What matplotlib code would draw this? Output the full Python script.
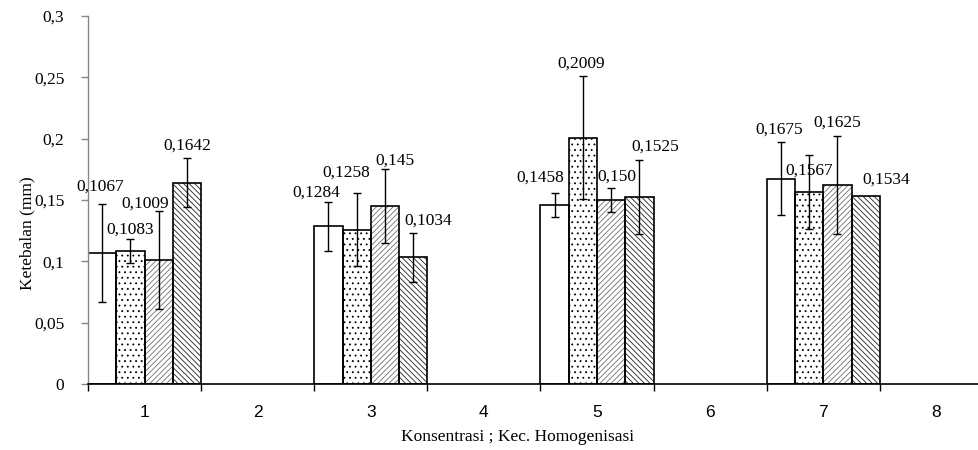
import matplotlib
matplotlib.use("Agg")
import matplotlib.pyplot as plt
import numpy as np
from matplotlib import font_manager

# data
categories = ['1', '2', '3', '4', '5', '6', '7', '8']
groups = [1, 3, 5, 7]

s1 = [0.1067, 0.1284, 0.1458, 0.1675]
s2 = [0.1083, 0.1258, 0.2009, 0.1567]
s3 = [0.1009, 0.145, 0.150, 0.1625]
s4 = [0.1642, 0.1034, 0.1525, 0.1534]

err1 = [0.04, 0.02, 0.01, 0.03]
err2 = [0.01, 0.03, 0.05, 0.03]
err3 = [0.04, 0.03, 0.01, 0.04]
err4 = [0.02, 0.02, 0.03, 0.0]

lab1 = ['0,1067', '0,1284', '0,1458', '0,1675']
lab2 = ['0,1083', '0,1258', '0,2009', '0,1567']
lab3 = ['0,1009', '0,145', '0,150', '0,1625']
lab4 = ['0,1642', '0,1034', '0,1525', '0,1534']

yticks = [0, 0.05, 0.1, 0.15, 0.2, 0.25, 0.3]
ytick_labels = ['0', '0,05', '0,1', '0,15', '0,2', '0,25', '0,3']

# label nudges in pixels (dx, dy from top of error bar)
nudge1 = [(-1.5, 17), (-12, 9), (-14.5, 15), (-2, 12)]
nudge2 = [(0, 9), (-10, 20), (-2, 13), (0, -16)]
nudge3 = [(-13.5, 8), (10, 9), (6, 11), (0, 13)]
nudge4 = [(0, 12), (15, 12), (16, 13), (21, 16)]

serif = 'Liberation Serif'
names = {f.name for f in font_manager.fontManager.ttflist}
xfont = 'Liberation Sans Narrow' if 'Liberation Sans Narrow' in names else 'Liberation Sans'

plt.rcParams['hatch.linewidth'] = 0.6
plt.rcParams['font.family'] = serif

fig = plt.figure(figsize=(9.79, 4.5), dpi=100)
ax = fig.add_axes([88 / 979, 66 / 450, 905 / 979, 368 / 450])

width = 0.25
offsets = [-1.5 * width, -0.5 * width, 0.5 * width, 1.5 * width]
hatches = ['', '...', '//////', '\\\\\\\\\\\\']
hatch_colors = ['black', 'black', '#707070', '#202020']
series = [s1, s2, s3, s4]
errs = [err1, err2, err3, err4]
labels = [lab1, lab2, lab3, lab4]
nudges = [nudge1, nudge2, nudge3, nudge4]

gx = np.array(groups, dtype=float)
for vals, err, hatch, hc, off, labs, nud in zip(series, errs, hatches, hatch_colors,
                                                 offsets, labels, nudges):
    x = gx + off
    # hatch layer, then outline on top
    ax.bar(x, vals, width, color='white', edgecolor=hc, linewidth=0,
           hatch=hatch, zorder=2)
    ax.bar(x, vals, width, fill=False, edgecolor='black', linewidth=1.2, zorder=2.5)
    e = np.array(err)
    m = e > 0
    ax.errorbar(x[m], np.array(vals)[m], yerr=e[m], fmt='none', ecolor='black',
                elinewidth=1, capsize=3.2, capthick=1, zorder=3)
    for xi, v, ei, t, (dx, dy) in zip(x, vals, err, labs, nud):
        ax.annotate(t, (xi, v + ei), xytext=(dx, dy), textcoords='offset pixels',
                    ha='center', va='center', fontsize=12.5, family=serif, zorder=4)

ax.set_xlim(0.5, 8.5)
ax.set_ylim(0, 0.3)

ax.set_xticks(np.arange(0.5, 9.0, 1.0))
ax.set_xticklabels([])
ax.set_xticks(np.arange(1, 9), minor=True)
ax.set_xticklabels(categories, minor=True, family=xfont, fontsize=12.5)
ax.tick_params(axis='x', which='major', direction='out', length=5, width=1, color='black')
ax.tick_params(axis='x', which='minor', length=0, pad=15)

ax.set_yticks(yticks)
ax.set_yticklabels(ytick_labels, family=serif, fontsize=12.5)
ax.tick_params(axis='y', direction='out', length=5, width=1, color='#868686', pad=12)

ax.spines['top'].set_visible(False)
ax.spines['right'].set_visible(False)
ax.spines['left'].set_color('#868686')
ax.spines['left'].set_linewidth(1)
ax.spines['bottom'].set_color('black')
ax.spines['bottom'].set_linewidth(1.2)

fig.text(27 / 979, 1 - 233 / 450, 'Ketebalan (mm)', rotation=90, ha='center',
         va='center', fontsize=12.5, family=serif)
fig.text(518 / 979, 1 - 437 / 450, 'Konsentrasi ; Kec. Homogenisasi', ha='center',
         va='center', fontsize=12.5, family=serif)

fig.savefig('out.png', dpi=100)
